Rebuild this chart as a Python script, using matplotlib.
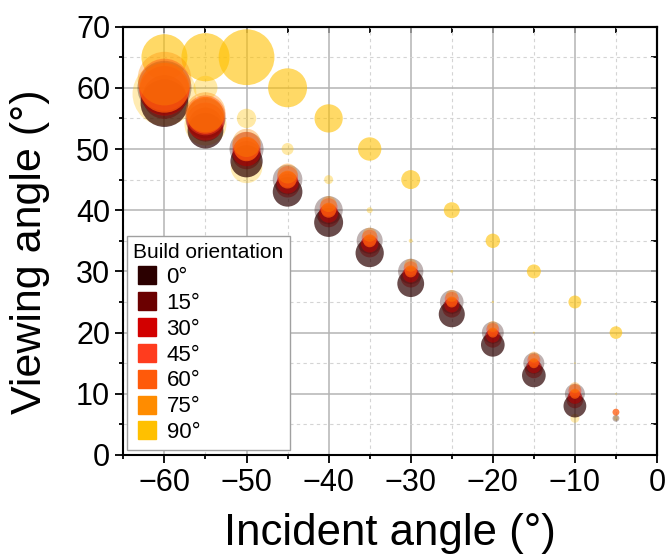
import numpy as np
import matplotlib
matplotlib.use("Agg")
import matplotlib.pyplot as plt
from matplotlib.colors import to_rgba
from matplotlib.lines import Line2D
from matplotlib.ticker import MultipleLocator

plt.rcParams['font.family'] = ['Liberation Sans', 'DejaVu Sans']

# Build orientations and colours
orientations = ["0°", "15°", "30°", "45°", "60°", "75°", "90°"]
colors = ["#2b0000", "#6b0000", "#d20000", "#ff3c1e", "#ff5a0a", "#ff8c00", "#ffc000"]

# Incident angles (deg)
incident = [-60, -55, -50, -45, -40, -35, -30, -25, -20, -15, -10, -5]

# 0 deg: main peak just below specular, and faint specular halo
view_0 = [57.5, 53, 48, 43, 38, 33, 28, 23, 18, 13, 8]
int_0 = [57, 32, 26, 22, 21, 20, 18, 17, 14, 14, 13]
view_0b = [60, 55, 50, 45, 40, 35, 30, 25, 20, 15, 10, 6]
int_0b = [73, 40, 29, 22, 20, 17, 16, 14, 12, 11, 10, 1.2]

# 15 deg
view_15 = [58.5, 54, 49, 44, 39, 34, 29, 24, 19, 14, 9]
int_15 = [48, 29, 20, 14, 12, 11, 10, 9, 8, 8, 7]

# 30 deg
view_30 = [59.5, 54.5, 49.5, 44.5, 39.5, 34.5, 29.5, 24.5, 19.5, 14.5, 9.5]
int_30 = [62, 36, 20, 12, 9, 7.5, 6.5, 5.6, 4.9, 4.9, 4.9]

# 45 deg
view_45 = [60.5, 55.5, 50.5, 45.5, 40.5, 35.5, 30.5, 25.5, 20.5, 15.5, 10.5]
int_45 = [68, 40, 20, 11, 8, 6.4, 5, 5, 4.2, 4.2, 4.2]

# 60 deg
view_60 = [60, 55.5, 50, 45, 40, 35, 30, 25, 20, 15, 10, 7]
int_60 = [62, 34, 15, 8, 5.6, 4.2, 3.6, 3, 2.5, 2.5, 2.5, 1.2]

# 75 deg
view_75 = [61.5, 56, 51, 46, 41, 36, 31, 26, 21, 16, 11]
int_75 = [72, 40, 20, 10, 6.4, 5, 4.2, 3.6, 3, 3, 3]

# 90 deg: strong off-specular peak, weaker secondary and specular halos
view_90 = [65, 65, 65, 60, 55, 50, 45, 40, 35, 30, 25, 20]
int_90 = [53, 58, 78, 38, 20, 13.7, 9, 6.4, 5.2, 4.9, 4.2, 4.0]
inc_90b = [-55, -50, -45, -40, -35, -30, -25, -20, -15, -10, -5]
view_90b = [60, 55, 50, 45, 40, 35, 30, 25, 20, 15, 10]
int_90b = [14.4, 9.4, 3.6, 2, 0.9, 0.4, 0.22, 0.15, 0.1, 0.07, 0.07]
inc_90c = [-60, -55, -50, -10, -5]
view_90c = [59, 54, 47, 6, 6]
int_90c = [102, 44, 25, 2, 0.6]

SCALE = 20.7  # intensity -> marker area (pt^2)


def bubbles(ax, x, y, inten, color, alpha, z):
    x = np.asarray(x[:len(y)])
    s = np.asarray(inten) * SCALE
    ax.scatter(x, y, s=s, c=[to_rgba(color, alpha)] * len(y),
               edgecolors='none', zorder=z)


fig, ax = plt.subplots(figsize=(6.67, 5.6), dpi=100)
fig.subplots_adjust(left=0.185, right=0.985, bottom=0.1875, top=0.9525)

# yellow at the back
bubbles(ax, inc_90c, view_90c, int_90c, colors[6], 0.3, 2)
bubbles(ax, incident, view_90, int_90, colors[6], 0.6, 2)
bubbles(ax, inc_90b, view_90b, int_90b, colors[6], 0.35, 2)

bubbles(ax, incident, view_0b, int_0b, colors[0], 0.3, 3)
bubbles(ax, incident, view_0, int_0, colors[0], 0.7, 3)
bubbles(ax, incident, view_15, int_15, colors[1], 0.45, 4)
bubbles(ax, incident, view_30, int_30, colors[2], 0.45, 5)
bubbles(ax, incident, view_45, int_45, colors[3], 0.45, 6)
bubbles(ax, incident, view_60, int_60, colors[4], 0.75, 7)
bubbles(ax, incident, view_75, int_75, colors[5], 0.35, 8)

ax.set_xlim(-65, 0)
ax.set_ylim(0, 70)
ax.xaxis.set_major_locator(MultipleLocator(10))
ax.xaxis.set_minor_locator(MultipleLocator(5))
ax.yaxis.set_major_locator(MultipleLocator(10))
ax.yaxis.set_minor_locator(MultipleLocator(5))

ax.grid(which='major', color='#b4b4b4', lw=1.1, zorder=0)
ax.grid(which='minor', color='#d4d4d4', lw=0.8, ls=(0, (3, 3)), zorder=0)
ax.set_axisbelow(True)

for sp in ax.spines.values():
    sp.set_linewidth(1.5)

ax.tick_params(which='both', direction='out', width=1.3, labelsize=22,
               pad=3.5, top=False, right=False)
ax.tick_params(which='major', length=6)
ax.tick_params(which='minor', length=3)

# inward ticks on top and right
sec_x = ax.secondary_xaxis('top')
sec_x.xaxis.set_major_locator(MultipleLocator(10))
sec_x.xaxis.set_minor_locator(MultipleLocator(5))
sec_x.tick_params(which='both', direction='in', width=1.3, length=4.5,
                  labeltop=False)
sec_x.spines['top'].set_linewidth(1.5)
sec_y = ax.secondary_yaxis('right')
sec_y.yaxis.set_major_locator(MultipleLocator(10))
sec_y.yaxis.set_minor_locator(MultipleLocator(5))
sec_y.tick_params(which='both', direction='in', width=1.3, length=4,
                  labelright=False)
sec_y.spines['right'].set_linewidth(1.5)

ax.set_xlabel("Incident angle (°)", fontsize=31.5)
ax.set_ylabel("Viewing angle (°)", fontsize=31)
ax.xaxis.set_label_coords(0.5, -0.135)
ax.yaxis.set_label_coords(-0.138, 0.475)

handles = [Line2D([], [], ls='none', marker='s', markersize=13,
                  markerfacecolor=c, markeredgecolor=c) for c in colors]
leg = ax.legend(handles, orientations, title="Build orientation",
                loc='lower left', bbox_to_anchor=(0.006, 0.012),
                borderaxespad=0, fontsize=16, title_fontsize=15,
                labelspacing=0.22, handletextpad=0.3, handlelength=1.2,
                borderpad=0.3, fancybox=False, framealpha=1,
                edgecolor='#a0a0a0', alignment='left')
leg.get_frame().set_linewidth(1.0)
leg.set_zorder(20)

fig.savefig("out.png", dpi=100)
